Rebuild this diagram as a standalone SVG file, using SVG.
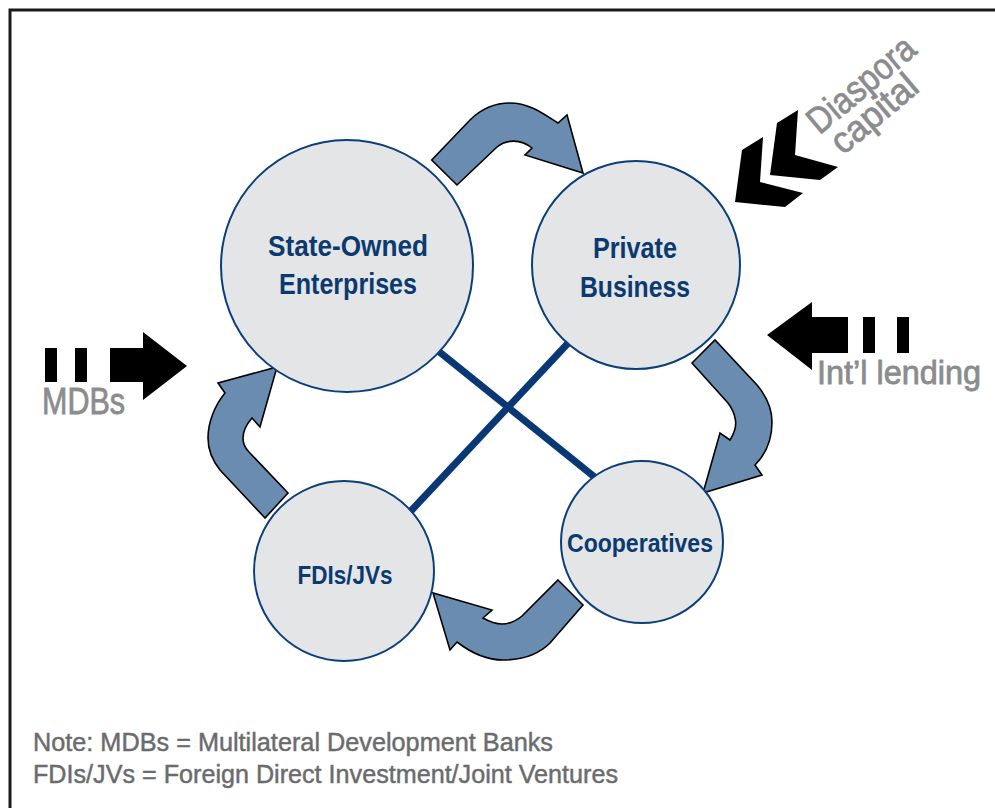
<svg xmlns="http://www.w3.org/2000/svg" width="995" height="808" viewBox="0 0 995 808">
<style>
.node{fill:#e4e5e7;stroke:#0b3f7a;stroke-width:2}
.nt{font-family:"Liberation Sans",Arial,sans-serif;font-weight:bold;fill:#0b3a70;text-anchor:middle}
.gt{font-family:"Liberation Sans",Arial,sans-serif;fill:#8b8c8e;stroke:#8b8c8e;stroke-width:0.8}
.note{font-family:"Liberation Sans",Arial,sans-serif;fill:#6a6b6d;stroke:#6a6b6d;stroke-width:0.45;font-size:25px}
.cyc{fill:#6a8cb0;stroke:#000;stroke-width:1.6;stroke-linejoin:miter}
.blk{fill:#000}
.cross{stroke:#0a3874;stroke-width:7;fill:none}
</style>
<rect x="0" y="0" width="995" height="808" fill="#fff"/>
<path d="M10,808 L10,10 L995,10" fill="none" stroke="#1a1a1a" stroke-width="3"/>

<g id="connectors">
  <line class="cross" x1="437" y1="350" x2="597" y2="479"/>
  <line class="cross" x1="571" y1="340" x2="410" y2="512"/>
  <path class="cyc" d="M431.7,160 L470,120 C485,105 500,103 510,103 C530,103 545,115 558,123 L567,115 L583,173 L525,155 L532,148 C520,138 505,140 497,147 L457,185 Z"/>
  <path class="cyc" d="M692,363 L715,340 L757,385 C768,398 772,410 772,422 C772,440 765,455 755,465 L762,475 L703,493 L720,433 L730,440 C735,432 737,425 735,418 C734,412 731,407 728,403 L692,363 Z"/>
  <path class="cyc" d="M558,580 L583,605 L550,643 C538,655 522,660 503,660 C485,660 470,652 457,642 L450,650 L433,593 L492,610 L483,618 C490,622 495,624 502,624 C510,624 516,621 522,616 L558,580 Z"/>
  <path class="cyc" d="M265,518 L220,470 C212,460 208,450 208,438 C208,422 215,405 225,393 L218,383 L277,367 L260,427 L252,418 C246,425 243,433 243,438 C243,443 245,448 249,452 L288,493 Z"/>
</g>

<g id="soe">
  <circle class="node" cx="347" cy="266" r="126"/>
  <text class="nt" x="348" y="256" font-size="29" textLength="160" lengthAdjust="spacingAndGlyphs">State-Owned</text>
  <text class="nt" x="348" y="294" font-size="29" textLength="138" lengthAdjust="spacingAndGlyphs">Enterprises</text>
</g>
<g id="private">
  <circle class="node" cx="636" cy="265" r="104"/>
  <text class="nt" x="635" y="258" font-size="29" textLength="84" lengthAdjust="spacingAndGlyphs">Private</text>
  <text class="nt" x="635" y="297" font-size="29" textLength="110" lengthAdjust="spacingAndGlyphs">Business</text>
</g>
<g id="coop">
  <circle class="node" cx="642" cy="542" r="81"/>
  <text class="nt" x="640" y="552" font-size="26" textLength="146" lengthAdjust="spacingAndGlyphs">Cooperatives</text>
</g>
<g id="fdi">
  <circle class="node" cx="344" cy="571" r="90"/>
  <text class="nt" x="345" y="584" font-size="26" textLength="95" lengthAdjust="spacingAndGlyphs">FDIs/JVs</text>
</g>

<g id="mdbs">
  <rect class="blk" x="45" y="348" width="12" height="34"/>
  <rect class="blk" x="75" y="348" width="12" height="34"/>
  <polygon class="blk" points="110,348 143,348 143,332 187,366 143,400 143,382 110,382"/>
  <text class="gt" x="42" y="414" font-size="37" textLength="83" lengthAdjust="spacingAndGlyphs">MDBs</text>
</g>
<g id="intl">
  <polygon class="blk" points="848,317 812,317 812,302 767,335 812,370 812,353 848,353"/>
  <rect class="blk" x="863" y="317" width="12" height="36"/>
  <rect class="blk" x="897" y="317" width="12" height="36"/>
  <text class="gt" x="817" y="384" font-size="33" textLength="164" lengthAdjust="spacingAndGlyphs">Int’l lending</text>
</g>
<g id="diaspora">
  <polygon class="blk" points="735,202 742,150 763,137 760,182 803,193 785,207"/>
  <polygon class="blk" points="770,175 777,123 798,110 795,155 838,167 820,180"/>
  <text class="gt" font-size="37" text-anchor="middle" textLength="129" lengthAdjust="spacingAndGlyphs" transform="translate(869,94) rotate(-40)">Diaspora</text>
  <text class="gt" font-size="37" text-anchor="middle" textLength="102" lengthAdjust="spacingAndGlyphs" transform="translate(882,123) rotate(-40)">capital</text>
</g>

<g id="note">
  <text class="note" x="33" y="751" textLength="520" lengthAdjust="spacingAndGlyphs">Note: MDBs = Multilateral Development Banks</text>
  <text class="note" x="33" y="783" textLength="585" lengthAdjust="spacingAndGlyphs">FDIs/JVs = Foreign Direct Investment/Joint Ventures</text>
</g>
</svg>
